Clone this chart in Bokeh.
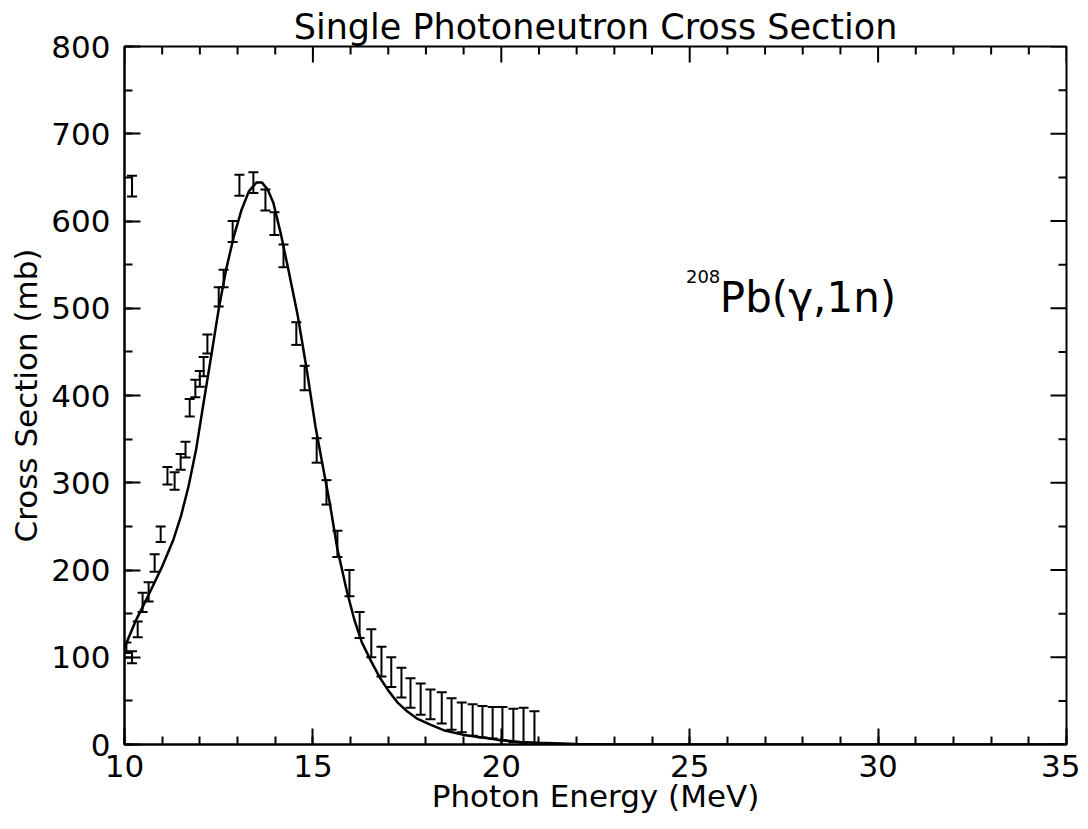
import math
from bokeh.plotting import figure
from bokeh.models import ColumnDataSource, Whisker, TeeHead, Label, Range1d, FixedTicker
from bokeh.embed import file_html
from bokeh.resources import INLINE

# measured points (photon energy in MeV, cross section in mb, error in mb)
energy_err = [10.05, 10.2, 10.2, 10.35, 10.48, 10.64, 10.8, 10.96, 11.14, 11.33,
              11.49, 11.62, 11.73, 11.88, 12.0, 12.1, 12.2, 12.5, 12.63, 12.87,
              13.05, 13.42, 13.74, 13.98, 14.22, 14.56, 14.78, 15.1, 15.36, 15.65,
              15.97, 16.24, 16.55, 16.82, 17.08, 17.35, 17.59, 17.86, 18.12, 18.42,
              18.68, 18.95, 19.24, 19.5, 19.77, 20.03, 20.32, 20.59, 20.88]
sigma_err = [111, 100, 640, 132, 163, 175, 208, 241, 308, 302,
             324, 338, 386, 408, 419, 433, 459, 513, 534, 588,
             641, 644, 624, 597, 560, 471, 420, 337, 289, 230,
             185, 137, 116, 95, 83, 71, 59, 52, 46, 42,
             35, 31, 28, 26, 25, 24, 22, 22, 18]
delta_err = [6, 7, 12, 9, 11, 11, 10, 9, 10, 10,
             9, 9, 10, 10, 9, 11, 11, 11, 10, 12,
             12, 12, 12, 13, 13, 13, 14, 14, 14, 15,
             15, 15, 16, 17, 17, 17, 17, 18, 17, 18,
             18, 17, 18, 18, 18, 19, 19, 20, 20]

# fitted curve
energy_fit = [10.0, 10.3, 10.6, 10.9, 11.0, 11.3, 11.5, 11.7, 11.9, 12.0,
              12.1, 12.3, 12.5, 12.7, 12.9, 13.1, 13.3, 13.5, 13.65, 13.8,
              13.95, 14.15, 14.35, 14.6, 14.85, 15.07, 15.25, 15.45, 15.65, 15.9,
              16.1, 16.3, 16.55, 16.8, 17.0, 17.25, 17.5, 17.75, 18.1, 18.5,
              19.0, 19.5, 20.0, 20.5, 21.0, 22.0, 23.0, 35.0]
sigma_fit = [111, 142, 168, 195, 204, 235, 262, 296, 338, 365,
             392, 445, 499, 545, 582, 612, 634, 644, 644, 636,
             621, 585, 544, 491, 426, 364, 322, 276, 224, 176,
             143, 117, 95, 75, 62, 48, 38, 30, 23, 16,
             11, 8, 5, 3, 2, 0.5, 0, 0]

x_ticks = [10, 15, 20, 25, 30, 35]
y_ticks = [0, 100, 200, 300, 400, 500, 600, 700, 800]
x_minor = [x for x in range(10, 36) if x % 5]
y_minor = [y for y in range(50, 800, 100)]

lower = [s - d for s, d in zip(sigma_err, delta_err)]
upper = [s + d for s, d in zip(sigma_err, delta_err)]
src = ColumnDataSource(dict(x=energy_err, y=sigma_err, lower=lower, upper=upper))

FONT = "DejaVu Sans"
XMIN, XMAX, YMIN, YMAX = 10, 35, 0, 800

p = figure(x_range=Range1d(XMIN, XMAX), y_range=Range1d(YMIN, YMAX),
           output_backend="svg", toolbar_location=None,
           title="Single Photoneutron Cross Section")
p.frame_width = 942
p.frame_height = 698
p.min_border_left = 124
p.min_border_right = 14
p.min_border_top = 46
p.min_border_bottom = 76
p.background_fill_color = "white"
p.border_fill_color = "white"
p.outline_line_color = "black"
p.outline_line_width = 2
p.grid.visible = False

p.title.align = "center"
p.title.text_font = FONT
p.title.text_font_size = "35px"
p.title.text_font_style = "normal"
p.title.text_color = "black"
p.title.standoff = 0
p.title.offset = 12

p.line(energy_fit, sigma_fit, line_color="black", line_width=2.5)

p.add_layout(Whisker(source=src, base="x", lower="lower", upper="upper",
                     line_color="black", line_width=2,
                     lower_head=TeeHead(size=10, line_width=2, line_color="black"),
                     upper_head=TeeHead(size=10, line_width=2, line_color="black")))

for ax, ticks, minor in ((p.xaxis[0], x_ticks, x_minor + x_ticks), (p.yaxis[0], y_ticks, y_minor + y_ticks)):
    ax.ticker = FixedTicker(ticks=ticks, minor_ticks=minor)
    ax.major_tick_in = 16
    ax.major_tick_out = 0
    ax.minor_tick_in = 8
    ax.minor_tick_out = 0
    ax.axis_line_width = 2
    ax.major_tick_line_width = 2
    ax.minor_tick_line_width = 2
    ax.axis_line_color = "black"
    ax.major_tick_line_color = "black"
    ax.minor_tick_line_color = "black"
    ax.major_label_text_font = FONT
    ax.major_label_text_font_size = "31px"
    ax.major_label_text_color = "black"
    ax.axis_label_text_font = FONT
    ax.axis_label_text_font_size = "31px"
    ax.axis_label_text_font_style = "normal"
    ax.axis_label_text_color = "black"

p.xaxis.axis_label = "Photon Energy (MeV)"
p.yaxis.axis_label = "Cross Section (mb)"
p.xaxis.major_label_standoff = 10
p.yaxis.major_label_standoff = 14
p.xaxis.axis_label_standoff = -2
p.yaxis.axis_label_standoff = 4

# mirrored ticks on the top and right edges
p.ray(x=x_ticks, y=[YMAX] * len(x_ticks), length=16, length_units="screen",
      angle=-math.pi / 2, line_color="black", line_width=2)
p.ray(x=x_minor, y=[YMAX] * len(x_minor), length=8, length_units="screen",
      angle=-math.pi / 2, line_color="black", line_width=2)
p.ray(x=[XMAX] * len(y_ticks), y=y_ticks, length=16, length_units="screen",
      angle=math.pi, line_color="black", line_width=2)
p.ray(x=[XMAX] * len(y_minor), y=y_minor, length=8, length_units="screen",
      angle=math.pi, line_color="black", line_width=2)

p.add_layout(Label(x=24.9, y=536, text="208", text_font=FONT, text_font_size="18px",
                   text_color="black", text_baseline="alphabetic"))
p.add_layout(Label(x=25.8, y=512, text="Pb(γ,1n)", text_font=FONT, text_font_size="42px",
                   text_color="black", text_baseline="alphabetic"))

open("out.html", "w").write(file_html(p, INLINE))
